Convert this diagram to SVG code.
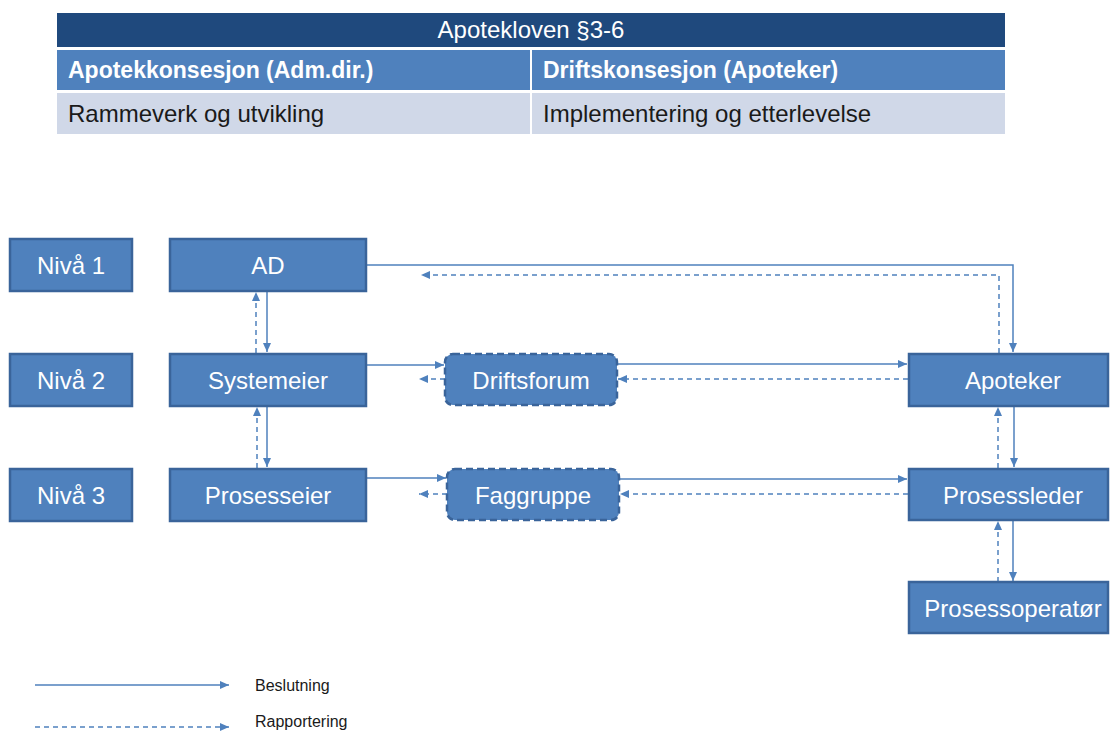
<svg xmlns="http://www.w3.org/2000/svg" width="1110" height="731" viewBox="0 0 1110 731">
<defs>
<style>
.t{font-family:"Liberation Sans",Arial,sans-serif;font-size:24px}
.w{fill:#fff}
.k{fill:#1a1a1a}
.b{font-weight:bold;font-size:23px}
.box{fill:#4f81bd;stroke:#3a649a;stroke-width:2.5}
.dbox{fill:#4f81bd;stroke:#3a649a;stroke-width:2.5;stroke-dasharray:7 4}
.s{fill:none;stroke:#4f81bd;stroke-width:1.5;marker-end:url(#ah)}
.d{fill:none;stroke:#4f81bd;stroke-width:1.5;stroke-dasharray:5 4;marker-end:url(#ah)}
.lg{font-family:"Liberation Sans",Arial,sans-serif;font-size:16px;fill:#1a1a1a}
</style>
<marker id="ah" markerWidth="10" markerHeight="10" refX="9" refY="4" orient="auto" markerUnits="userSpaceOnUse">
<path d="M0,0 L9,4 L0,8 Z" fill="#4f81bd"/>
</marker>
</defs>
<rect width="1110" height="731" fill="#fff"/>

<g id="table">
<rect x="57" y="13" width="948" height="34" fill="#1f497d"/>
<rect x="57" y="50" width="473" height="40" fill="#4f81bd"/>
<rect x="532" y="50" width="473" height="40" fill="#4f81bd"/>
<rect x="57" y="93" width="473" height="41" fill="#d0d8e8"/>
<rect x="532" y="93" width="473" height="41" fill="#d0d8e8"/>
<text class="t w" x="531" y="38" text-anchor="middle">Apotekloven §3-6</text>
<text class="t w b" x="68" y="78">Apotekkonsesjon (Adm.dir.)</text>
<text class="t w b" x="543" y="78">Driftskonsesjon (Apoteker)</text>
<text class="t k" x="68" y="122">Rammeverk og utvikling</text>
<text class="t k" x="543" y="122">Implementering og etterlevelse</text>
</g>

<g id="connectors">
<path class="s" d="M267,291 V352"/>
<path class="d" d="M256,353 V292"/>
<path class="s" d="M267,406 V467"/>
<path class="d" d="M257,468 V407"/>
<path class="s" d="M366,265 H1013 V352"/>
<path class="d" d="M999,353 V275 H421"/>
<path class="s" d="M366,365 H444"/>
<path class="d" d="M445,379 H419"/>
<path class="s" d="M617,364 H907"/>
<path class="d" d="M908,379 H618"/>
<path class="s" d="M366,478 H446"/>
<path class="d" d="M447,494 H419"/>
<path class="s" d="M619,479 H907"/>
<path class="d" d="M908,494 H620"/>
<path class="s" d="M1014,406 V467"/>
<path class="d" d="M998,468 V407"/>
<path class="s" d="M1013,520 V581"/>
<path class="d" d="M998,582 V521"/>
</g>

<g id="niva1"><rect class="box" x="10" y="239" width="122" height="52"/><text class="t w" x="71" y="274" text-anchor="middle">Nivå 1</text></g>
<g id="niva2"><rect class="box" x="10" y="354" width="122" height="52"/><text class="t w" x="71" y="389" text-anchor="middle">Nivå 2</text></g>
<g id="niva3"><rect class="box" x="10" y="469" width="122" height="52"/><text class="t w" x="71" y="504" text-anchor="middle">Nivå 3</text></g>
<g id="ad"><rect class="box" x="170" y="239" width="196" height="52"/><text class="t w" x="268" y="274" text-anchor="middle">AD</text></g>
<g id="systemeier"><rect class="box" x="170" y="354" width="196" height="52"/><text class="t w" x="268" y="389" text-anchor="middle">Systemeier</text></g>
<g id="prosesseier"><rect class="box" x="170" y="469" width="196" height="52"/><text class="t w" x="268" y="504" text-anchor="middle">Prosesseier</text></g>
<g id="driftsforum"><rect class="dbox" x="445" y="354" width="172" height="51" rx="8"/><text class="t w" x="531" y="389" text-anchor="middle">Driftsforum</text></g>
<g id="faggruppe"><rect class="dbox" x="447" y="469" width="172" height="51" rx="8"/><text class="t w" x="533" y="504" text-anchor="middle">Faggruppe</text></g>
<g id="apoteker"><rect class="box" x="909" y="354" width="199" height="52"/><text class="t w" x="1013" y="389" text-anchor="middle">Apoteker</text></g>
<g id="prosessleder"><rect class="box" x="909" y="469" width="199" height="51"/><text class="t w" x="1013" y="504" text-anchor="middle">Prosessleder</text></g>
<g id="prosessoperator"><rect class="box" x="909" y="582" width="199" height="51"/><text class="t w" x="1013" y="617" text-anchor="middle">Prosessoperatør</text></g>

<g id="legend">
<path class="s" d="M35,685 H229"/>
<text class="lg" x="255" y="691">Beslutning</text>
<path class="d" d="M35,727 H229"/>
<text class="lg" x="255" y="727">Rapportering</text>
</g>
</svg>
